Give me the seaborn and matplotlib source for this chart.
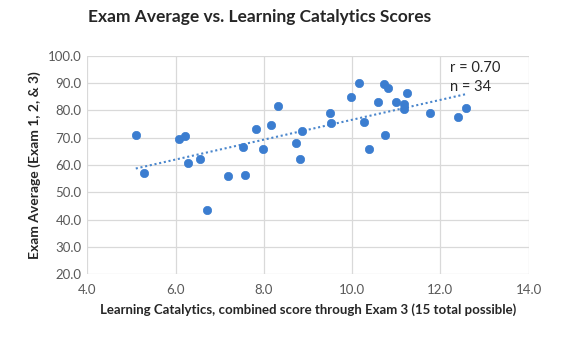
import pandas as pd
import matplotlib.pyplot as plt
import seaborn as sns

# Learning Catalytics score vs exam average
lc_score = [5.10, 5.29, 6.09, 6.22, 6.28, 6.56, 6.71, 7.18, 7.52, 7.58,
            7.83, 7.98, 8.16, 8.33, 8.74, 8.81, 8.87, 9.51, 9.52,
            10.15, 9.97, 10.27, 10.38, 10.58, 10.73, 10.82, 10.75, 10.99,
            11.17, 11.18, 11.25, 11.77, 12.40, 12.57]
exam_avg = [71.1, 57.0, 69.4, 70.6, 60.6, 62.3, 43.6, 55.9, 66.7, 56.4,
            73.2, 65.9, 74.7, 81.5, 68.1, 62.2, 72.5, 79.1, 75.2,
            90.0, 84.8, 75.7, 65.9, 83.0, 89.7, 88.2, 70.8, 83.0,
            82.2, 80.4, 86.2, 79.0, 77.7, 81.0]
x_ticks = [4, 6, 8, 10, 12, 14]
y_ticks = [20, 30, 40, 50, 60, 70, 80, 90, 100]
stats_text = "r = 0.70\nn = 34"

df = pd.DataFrame({"lc": lc_score, "exam": exam_avg})

sns.set_style("white")
plt.rcParams['font.family'] = ['Lato', 'DejaVu Sans']

fig = plt.figure(figsize=(5.7, 3.51), dpi=100)
ax = fig.add_axes([0.153, 0.2185, 0.7745, 0.6228])

blue = "#3b7dd0"
sns.regplot(data=df, x="lc", y="exam", scatter=False, ci=None, ax=ax,
            line_kws=dict(color="#4a86cc", lw=1.5, ls=(0, (1, 1.3))))
sns.scatterplot(data=df, x="lc", y="exam", ax=ax, color=blue, s=36,
                edgecolor=blue, linewidth=0.5, zorder=3)

ax.set_xlim(4, 14)
ax.set_ylim(20, 100)
ax.set_xticks(x_ticks)
ax.set_yticks(y_ticks)
ax.set_xticklabels([f"{v:.1f}" for v in x_ticks])
ax.set_yticklabels([f"{v:.1f}" for v in y_ticks])
ax.tick_params(axis="both", labelsize=9.5, colors="#595959", length=0)
ax.tick_params(axis="y", pad=4)
ax.tick_params(axis="x", pad=7)
ax.grid(True, color="#d9d9d9", lw=0.9)
ax.set_axisbelow(True)
for s in ax.spines.values():
    s.set_visible(False)

ax.set_xlabel("Learning Catalytics, combined score through Exam 3 (15 total possible)",
              fontsize=9.5, fontweight="bold", color="#262626", labelpad=5)
ax.set_ylabel("Exam Average (Exam 1, 2, & 3)", fontsize=10, fontweight="bold",
              color="#262626", labelpad=5)
fig.suptitle("Exam Average vs. Learning Catalytics Scores", x=0.456, y=0.975,
             fontsize=12.5, fontweight="bold", color="#262626")

ax.text(12.22, 98.2, stats_text, fontsize=10.5, color="#262626", va="top",
        linespacing=1.5)

plt.savefig("out.png", dpi=100)
